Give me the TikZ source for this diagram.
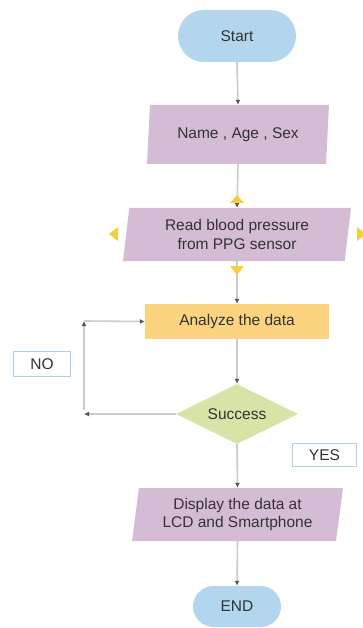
\documentclass[tikz,border=0pt]{standalone}
\usepackage{fontspec}
\setmainfont{Liberation Sans}
\usetikzlibrary{arrows.meta,shapes.geometric,shapes.misc}
\definecolor{cblue}{HTML}{B1D6EE}
\definecolor{cpurple}{HTML}{D5BCD5}
\definecolor{corange}{HTML}{FCD37E}
\definecolor{cgreen}{HTML}{D6E4A8}
\definecolor{cline}{HTML}{CBCBCB}
\definecolor{ctip}{HTML}{555555}
\definecolor{ctext}{HTML}{333333}
\definecolor{cyel}{HTML}{F9CD3C}
\definecolor{cbox}{HTML}{A9D2F0}
\tikzset{
  base/.style={inner sep=0pt, text=ctext, align=center, font=\fontsize{15.5}{18.3}\selectfont},
  pill/.style={base, fill=cblue, rounded rectangle},
  para/.style={base, fill=cpurple, trapezium, trapezium left angle=78, trapezium right angle=102, trapezium stretches body},
  procbox/.style={base, fill=corange, rectangle},
  decbox/.style={base, fill=cgreen, diamond, aspect=2},
  labbox/.style={base, draw=cbox, line width=1.5pt, fill=white, rectangle},
  arr/.style={draw=cline, line width=1.6pt, -{Latex[length=5pt,width=5pt,color=ctip]}},
  plainline/.style={draw=cline, line width=1.6pt},
}
\begin{document}
\begin{tikzpicture}[x=1pt,y=-1pt]
\useasboundingbox (0,0) rectangle (362,628);
\node[pill, minimum width=118pt, minimum height=52pt] (start) at (237,36) {Start};
\node[para, minimum width=182pt, minimum height=59pt] (name) at (238,134.5) {Name , Age , Sex};
\node[para, minimum width=228pt, minimum height=53pt] (read) at (237,234.5) {Read blood pressure\\from PPG sensor};
\node[procbox, minimum width=184pt, minimum height=35pt] (ana) at (237,321.5) {Analyze the data};
\node[decbox, minimum width=122pt, minimum height=60pt] (dec) at (237,414) {Success};
\node[para, minimum width=211pt, minimum height=53pt] (disp) at (237.5,514.5) {Display the data at\\LCD and Smartphone};
\node[pill, minimum width=88pt, minimum height=41pt] (end) at (237,606.5) {END};
\node[labbox, minimum width=57pt, minimum height=25pt] (no) at (42,364) {NO};
\node[labbox, minimum width=64pt, minimum height=23pt] (yes) at (324.5,455) {YES};
\coordinate (c1) at (84,414);
\coordinate (c2) at (84,321);
\draw[arr] (start.south) -- (name.north);
\draw[arr] (name.south) -- (read.north);
\draw[arr] (read.south) -- (ana.north);
\draw[arr] (ana.south) -- (dec.north);
\draw[arr] (dec.south) -- (disp.north);
\draw[arr] (disp.south) -- (end.north);
\draw[arr] (dec.west) -- (c1);
\draw[arr] ([yshift=4pt]c1) -- (c2);
\draw[arr] (c2) -- (ana.west);
% hover handles
\fill[cyel] (230,203) -- (244,203) -- (237,195) -- cycle;
\fill[cyel] (230,266) -- (244,266) -- (237,275) -- cycle;
\fill[cyel] (118,227) -- (118,241) -- (109,234) -- cycle;
\fill[cyel] (357,227) -- (357,241) -- (366,234) -- cycle;
\end{tikzpicture}
\end{document}
